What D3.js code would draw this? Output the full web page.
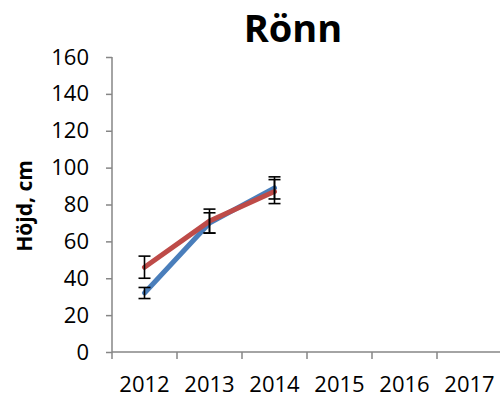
<!DOCTYPE html>
<html>
<head>
<meta charset="utf-8">
<script src="https://cdn.jsdelivr.net/npm/d3@7"></script>
<style>
  body { margin: 0; background: #fff; }
  text { font-family: "Open Sans", sans-serif; fill: #000; }
</style>
</head>
<body>
<svg id="chart" width="502" height="400"></svg>
<script>
// data
var years = ["2012", "2013", "2014", "2015", "2016", "2017"];
var yTicks = [0, 20, 40, 60, 80, 100, 120, 140, 160];
var blueVals = [32, 70, 89];
var blueErr = [3, 5.5, 6];
var redVals = [46, 71, 87];
var redErr = [6, 6.5, 6.5];

var svg = d3.select("#chart");

var xScale = d3.scaleBand()
  .domain(years)
  .range([112, 502])
  .padding(0);

var yScale = d3.scaleLinear()
  .domain([0, 160])
  .range([352, 57]);

var axisColor = "#868686";

// y axis
var yAxisG = svg.append("g")
  .attr("transform", "translate(112,0)")
  .call(d3.axisLeft(yScale).tickValues(yTicks).tickSize(6).tickPadding(17));
yAxisG.selectAll("text").style("font-size", "22px").style("font-family", "Open Sans");
yAxisG.selectAll("line, path").attr("stroke", axisColor).attr("stroke-width", 1.5);
yAxisG.select(".domain").attr("d", "M0,57V352");

// x axis: labels at band centres, ticks between categories
var xAxisG = svg.append("g")
  .attr("transform", "translate(0,352)")
  .call(d3.axisBottom(xScale).tickSize(0).tickPadding(24));
xAxisG.selectAll("text").style("font-size", "22px").style("font-family", "Open Sans");
xAxisG.select(".domain").attr("stroke", axisColor).attr("stroke-width", 1.5)
  .attr("d", "M112,0H500");

var bounds = years.map(function(d) { return xScale(d); });
xAxisG.selectAll(".btick")
  .data(bounds)
  .enter().append("line")
  .attr("class", "btick")
  .attr("x1", function(d) { return d; })
  .attr("x2", function(d) { return d; })
  .attr("y1", 0)
  .attr("y2", 7)
  .attr("stroke", axisColor)
  .attr("stroke-width", 1.5);

// series
var series = [
  {vals: blueVals, err: blueErr, color: "#4A7EBB"},
  {vals: redVals, err: redErr, color: "#BE4B48"}
];

var line = d3.line()
  .x(function(d, i) { return xScale(years[i]) + xScale.bandwidth() / 2; })
  .y(function(d) { return yScale(d); });

series.forEach(function(s) {
  svg.append("path")
    .datum(s.vals)
    .attr("d", line)
    .attr("fill", "none")
    .attr("stroke", s.color)
    .attr("stroke-width", 5)
    .attr("stroke-linejoin", "round")
    .attr("stroke-linecap", "round");
});

// error bars on top
series.forEach(function(s) {
  var g = svg.append("g").attr("stroke", "#000").attr("stroke-width", 1.6);
  s.vals.forEach(function(v, i) {
    var cx = xScale(years[i]) + xScale.bandwidth() / 2;
    var top = yScale(v + s.err[i]);
    var bot = yScale(v - s.err[i]);
    g.append("line").attr("x1", cx).attr("x2", cx).attr("y1", top).attr("y2", bot);
    g.append("line").attr("x1", cx - 6).attr("x2", cx + 6).attr("y1", top).attr("y2", top);
    g.append("line").attr("x1", cx - 6).attr("x2", cx + 6).attr("y1", bot).attr("y2", bot);
  });
});

// title
svg.append("text")
  .attr("x", 293)
  .attr("y", 42)
  .style("text-anchor", "middle")
  .style("font-size", "38px")
  .style("font-weight", "bold")
  .text("Rönn");

// y axis title
svg.append("text")
  .attr("transform", "translate(32,206) rotate(-90)")
  .style("text-anchor", "middle")
  .style("font-size", "21px")
  .style("font-weight", "bold")
  .text("Höjd, cm");
</script>
</body>
</html>
